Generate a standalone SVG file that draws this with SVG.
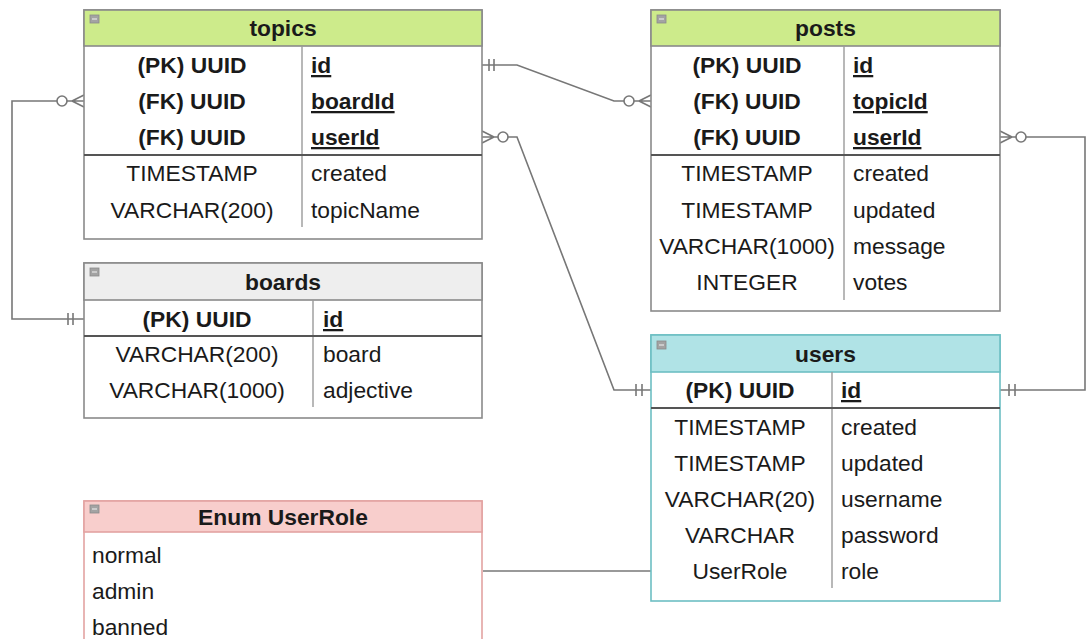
<svg xmlns="http://www.w3.org/2000/svg" width="1087" height="639" viewBox="0 0 1087 639">
  <style>
    text { font-family: "Liberation Sans", Arial, sans-serif; font-size: 22.8px; fill: #1a1a1a; }
    .title { font-weight: bold; text-anchor: middle; }
    .key { font-weight: bold; text-anchor: middle; }
    .type { text-anchor: middle; }
    .pk { font-weight: bold; text-decoration: underline; }
    .box { fill: #ffffff; stroke: #8a8a8a; stroke-width: 1.6; }
    .hdr-green { fill: #cdeb8b; stroke: #8a8a8a; stroke-width: 1.6; }
    .hdr-gray { fill: #eeeeee; stroke: #8a8a8a; stroke-width: 1.6; }
    .box-teal { fill: #ffffff; stroke: #6dbfc3; stroke-width: 1.6; }
    .hdr-teal { fill: #b0e3e6; stroke: #6dbfc3; stroke-width: 1.6; }
    .box-red { fill: #ffffff; stroke: #e3a3a2; stroke-width: 1.6; }
    .hdr-red { fill: #f8cecc; stroke: #e3a3a2; stroke-width: 1.6; }
    .coldiv { stroke: #9a9a9a; stroke-width: 1.4; }
    .keydiv { stroke: #555555; stroke-width: 2; }
    .toggle { fill: #a3a3a3; stroke: #8a8a8a; stroke-width: 0.8; }
    .toggle-bar { stroke: #e6e6e6; stroke-width: 1.2; }
    .conn { fill: none; stroke: #777777; stroke-width: 1.6; }
    .ring { fill: #ffffff; stroke: #777777; stroke-width: 1.6; }
  </style>

  <defs>
    <g id="toggle">
      <rect class="toggle" x="0" y="0" width="9" height="8"/>
      <line class="toggle-bar" x1="2" y1="4" x2="7" y2="4"/>
    </g>
  </defs>

  <!-- relationship lines -->
  <g id="connectors">
    <!-- topics.id (one) to posts.topicId (zero or many) -->
    <path class="conn" d="M482,65 L517,65 L614,101 L624,101"/>
    <line class="conn" x1="489" y1="59" x2="489" y2="71"/>
    <line class="conn" x1="494" y1="59" x2="494" y2="71"/>
    <path class="conn" d="M634,101 L651,101 M639,101 L651,95 M639,101 L651,107"/>
    <circle class="ring" cx="629" cy="101" r="5"/>

    <!-- topics.boardId (zero or many) to boards.id (one) -->
    <path class="conn" d="M57,101 L12,101 L12,319 L84,319"/>
    <path class="conn" d="M67,101 L84,101 M72,101 L84,95 M72,101 L84,107"/>
    <circle class="ring" cx="62" cy="101" r="5"/>
    <line class="conn" x1="68" y1="313" x2="68" y2="325"/>
    <line class="conn" x1="73" y1="313" x2="73" y2="325"/>

    <!-- topics.userId (zero or many) to users.id (one) -->
    <path class="conn" d="M482,137 L498,137 M494,137 L482,131 M494,137 L482,143"/>
    <circle class="ring" cx="503" cy="137" r="5"/>
    <path class="conn" d="M508,137 L517,137 L614,390 L651,390"/>
    <line class="conn" x1="636" y1="384" x2="636" y2="396"/>
    <line class="conn" x1="642" y1="384" x2="642" y2="396"/>

    <!-- posts.userId (zero or many) to users.id (one) -->
    <path class="conn" d="M1000,137 L1016,137 M1012,137 L1000,131 M1012,137 L1000,143"/>
    <circle class="ring" cx="1021" cy="137" r="5"/>
    <path class="conn" d="M1026,137 L1085,137 L1085,390 L1000,390"/>
    <line class="conn" x1="1009" y1="384" x2="1009" y2="396"/>
    <line class="conn" x1="1015" y1="384" x2="1015" y2="396"/>

    <!-- UserRole enum to users.role -->
    <line class="conn" x1="483" y1="571" x2="651" y2="571"/>
  </g>

  <!-- topics -->
  <g id="topics">
    <rect class="box" x="84" y="10" width="398" height="229"/>
    <rect class="hdr-green" x="84" y="10" width="398" height="36"/>
    <use href="#toggle" x="90" y="15"/>
    <text class="title" x="283" y="36">topics</text>
    <line class="coldiv" x1="302" y1="46" x2="302" y2="227"/>
    <line class="keydiv" x1="84" y1="155" x2="482" y2="155"/>
    <text class="key" x="192" y="73">(PK) UUID</text>
    <text class="pk" x="311" y="73">id</text>
    <text class="key" x="192" y="109">(FK) UUID</text>
    <text class="pk" x="311" y="109">boardId</text>
    <text class="key" x="192" y="145">(FK) UUID</text>
    <text class="pk" x="311" y="145">userId</text>
    <text class="type" x="192" y="181">TIMESTAMP</text>
    <text x="311" y="181">created</text>
    <text class="type" x="192" y="218">VARCHAR(200)</text>
    <text x="311" y="218">topicName</text>
  </g>

  <!-- posts -->
  <g id="posts">
    <rect class="box" x="651" y="10" width="349" height="301"/>
    <rect class="hdr-green" x="651" y="10" width="349" height="36"/>
    <use href="#toggle" x="657" y="15"/>
    <text class="title" x="825.5" y="36">posts</text>
    <line class="coldiv" x1="844" y1="46" x2="844" y2="300"/>
    <line class="keydiv" x1="651" y1="155" x2="1000" y2="155"/>
    <text class="key" x="747" y="73">(PK) UUID</text>
    <text class="pk" x="853" y="73">id</text>
    <text class="key" x="747" y="109">(FK) UUID</text>
    <text class="pk" x="853" y="109">topicId</text>
    <text class="key" x="747" y="145">(FK) UUID</text>
    <text class="pk" x="853" y="145">userId</text>
    <text class="type" x="747" y="181">TIMESTAMP</text>
    <text x="853" y="181">created</text>
    <text class="type" x="747" y="218">TIMESTAMP</text>
    <text x="853" y="218">updated</text>
    <text class="type" x="747" y="254">VARCHAR(1000)</text>
    <text x="853" y="254">message</text>
    <text class="type" x="747" y="290">INTEGER</text>
    <text x="853" y="290">votes</text>
  </g>

  <!-- boards -->
  <g id="boards">
    <rect class="box" x="84" y="263" width="398" height="155"/>
    <rect class="hdr-gray" x="84" y="263" width="398" height="37"/>
    <use href="#toggle" x="90" y="268"/>
    <text class="title" x="283" y="290">boards</text>
    <line class="coldiv" x1="313" y1="300" x2="313" y2="407"/>
    <line class="keydiv" x1="84" y1="336" x2="482" y2="336"/>
    <text class="key" x="197" y="327">(PK) UUID</text>
    <text class="pk" x="323" y="327">id</text>
    <text class="type" x="197" y="362">VARCHAR(200)</text>
    <text x="323" y="362">board</text>
    <text class="type" x="197" y="398">VARCHAR(1000)</text>
    <text x="323" y="398">adjective</text>
  </g>

  <!-- users -->
  <g id="users">
    <rect class="box-teal" x="651" y="335" width="349" height="266"/>
    <rect class="hdr-teal" x="651" y="335" width="349" height="37"/>
    <use href="#toggle" x="657" y="341"/>
    <text class="title" x="825.5" y="362">users</text>
    <line class="coldiv" x1="832" y1="372" x2="832" y2="588"/>
    <line class="keydiv" x1="651" y1="408" x2="1000" y2="408"/>
    <text class="key" x="740" y="398">(PK) UUID</text>
    <text class="pk" x="841" y="398">id</text>
    <text class="type" x="740" y="435">TIMESTAMP</text>
    <text x="841" y="435">created</text>
    <text class="type" x="740" y="471">TIMESTAMP</text>
    <text x="841" y="471">updated</text>
    <text class="type" x="740" y="507">VARCHAR(20)</text>
    <text x="841" y="507">username</text>
    <text class="type" x="740" y="543">VARCHAR</text>
    <text x="841" y="543">password</text>
    <text class="type" x="740" y="579">UserRole</text>
    <text x="841" y="579">role</text>
  </g>

  <!-- UserRole enum -->
  <g id="enum-userrole">
    <rect class="box-red" x="84" y="501" width="398" height="150"/>
    <rect class="hdr-red" x="84" y="501" width="398" height="31"/>
    <use href="#toggle" x="90" y="505"/>
    <text class="title" x="283" y="525">Enum UserRole</text>
    <text x="92" y="563">normal</text>
    <text x="92" y="599">admin</text>
    <text x="92" y="635">banned</text>
  </g>
</svg>
